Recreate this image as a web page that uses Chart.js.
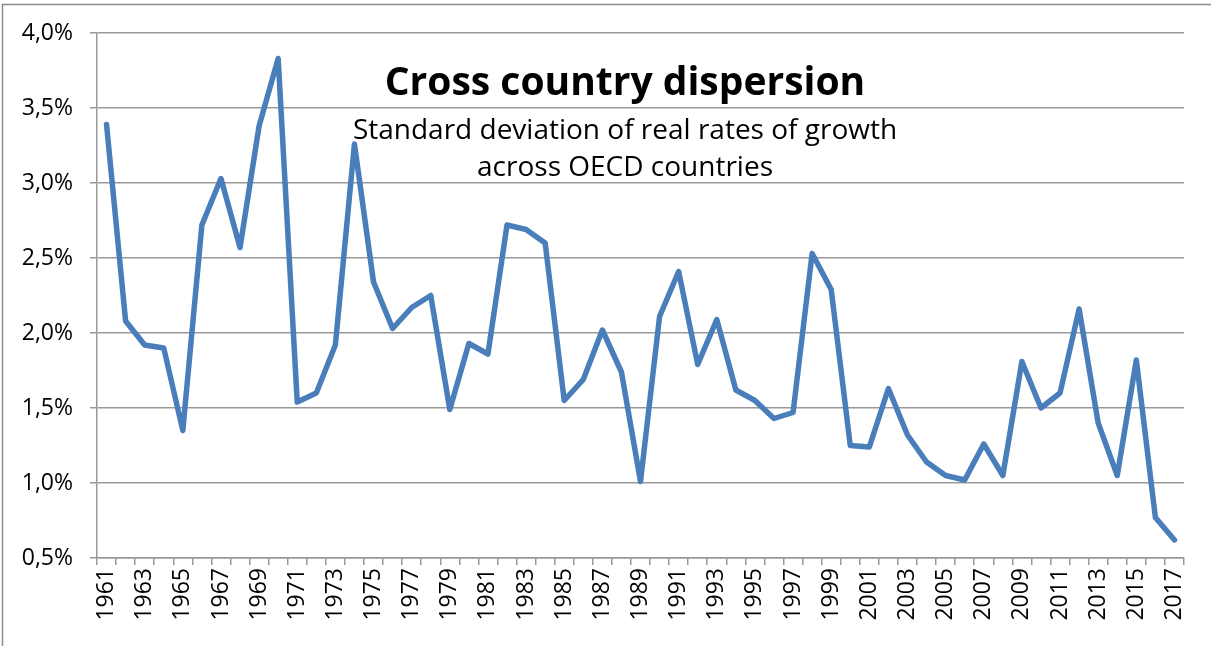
<!DOCTYPE html>
<html>
<head>
<meta charset="utf-8">
<title>Cross country dispersion</title>
<script src="https://cdn.jsdelivr.net/npm/chart.js@4.4.1/dist/chart.umd.min.js"></script>
<style>
	html, body { margin: 0; padding: 0; background: #fff; }
	#wrap { width: 1211px; height: 646px; position: relative; }
</style>
</head>
<body>
<div id="wrap"><canvas id="myLineChart"></canvas></div>
<script>
// 연도 (카테고리)
var years = ["1961","1962","1963","1964","1965","1966","1967","1968","1969","1970",
	"1971","1972","1973","1974","1975","1976","1977","1978","1979","1980",
	"1981","1982","1983","1984","1985","1986","1987","1988","1989","1990",
	"1991","1992","1993","1994","1995","1996","1997","1998","1999","2000",
	"2001","2002","2003","2004","2005","2006","2007","2008","2009","2010",
	"2011","2012","2013","2014","2015","2016","2017"];

// 표준편차 (%), 그림에서 읽은 값
var dispersion = [3.39, 2.08, 1.92, 1.90, 1.35, 2.72, 3.03, 2.57, 3.38, 3.83,
	1.54, 1.60, 1.92, 3.26, 2.34, 2.03, 2.17, 2.25, 1.49, 1.93,
	1.86, 2.72, 2.69, 2.60, 1.55, 1.69, 2.02, 1.74, 1.01, 2.11,
	2.41, 1.79, 2.09, 1.62, 1.55, 1.43, 1.47, 2.53, 2.29, 1.25,
	1.24, 1.63, 1.32, 1.14, 1.05, 1.02, 1.26, 1.05, 1.81, 1.50,
	1.60, 2.16, 1.40, 1.05, 1.82, 0.77, 0.62];

// y축 눈금
var yMin = 0.5;
var yMax = 4.0;
var yStep = 0.5;

var titleText = "Cross country dispersion";
var subtitleLines = ["Standard deviation of real rates of growth", "across OECD countries"];

var fontFamily = "'Open Sans', 'Liberation Sans', sans-serif";

// 바깥 테두리
var framePlugin = {
	id: 'frame',
	beforeDraw: function(chart) {
		var ctx = chart.ctx;
		ctx.save();
		ctx.fillStyle = '#fff';
		ctx.fillRect(0, 0, chart.width, chart.height);
		ctx.strokeStyle = '#8c8c8c';
		ctx.lineWidth = 1.5;
		ctx.strokeRect(2.5, 4.5, chart.width + 20, chart.height + 20);
		ctx.restore();
	}
};

// 차트 안쪽 제목
var innerTitlePlugin = {
	id: 'innerTitle',
	afterDatasetsDraw: function(chart) {
		var ctx = chart.ctx;
		var cx = 625;
		ctx.save();
		ctx.fillStyle = '#000';
		ctx.textAlign = 'center';
		ctx.textBaseline = 'alphabetic';
		ctx.font = "bold 39px " + fontFamily;
		ctx.fillText(titleText, cx, 95);
		ctx.font = "28px " + fontFamily;
		ctx.fillText(subtitleLines[0], cx, 139);
		ctx.fillText(subtitleLines[1], cx, 176);
		ctx.restore();
	}
};

var ctx = document.getElementById('myLineChart').getContext('2d');
window.myLineChart = new Chart(ctx, {
	type: 'line',
	data: {
		labels: years,
		datasets: [{
			label: 'Cross country dispersion',
			data: dispersion,
			borderColor: '#4a7ebb',
			backgroundColor: '#4a7ebb',
			borderWidth: 5.5,
			borderJoinStyle: 'round',
			borderCapStyle: 'round',
			pointRadius: 0,
			tension: 0,
			fill: false
		}]
	},
	options: {
		responsive: true,
		maintainAspectRatio: false,
		animation: false,
		layout: {
			padding: { top: 33, right: 27, left: 0, bottom: 0 }
		},
		plugins: {
			legend: { display: false },
			tooltip: { enabled: false }
		},
		scales: {
			x: {
				type: 'category',
				offset: true,
				grid: {
					display: true,
					drawOnChartArea: false,
					drawTicks: true,
					tickLength: 7,
					offset: true,
					color: '#999',
					lineWidth: 1.5
				},
				border: { display: true, color: '#999', width: 1.5 },
				ticks: {
					autoSkip: false,
					minRotation: 90,
					maxRotation: 90,
					padding: 3,
					color: '#000',
					font: { family: fontFamily, size: 23 },
					callback: function(value, index) {
						return index % 2 === 0 ? this.getLabelForValue(value) : '';
					}
				},
				afterFit: function(scale) { scale.height = 88; }
			},
			y: {
				min: yMin,
				max: yMax,
				grid: {
					color: '#999',
					lineWidth: 1.5,
					tickLength: 7
				},
				border: { display: true, color: '#999', width: 1.5 },
				ticks: {
					stepSize: yStep,
					padding: 17,
					color: '#000',
					font: { family: fontFamily, size: 23 },
					callback: function(v) {
						return v.toFixed(1).replace('.', ',') + '%';
					}
				},
				afterFit: function(scale) { scale.width = 97; }
			}
		}
	},
	plugins: [framePlugin, innerTitlePlugin]
});
</script>
</body>
</html>
